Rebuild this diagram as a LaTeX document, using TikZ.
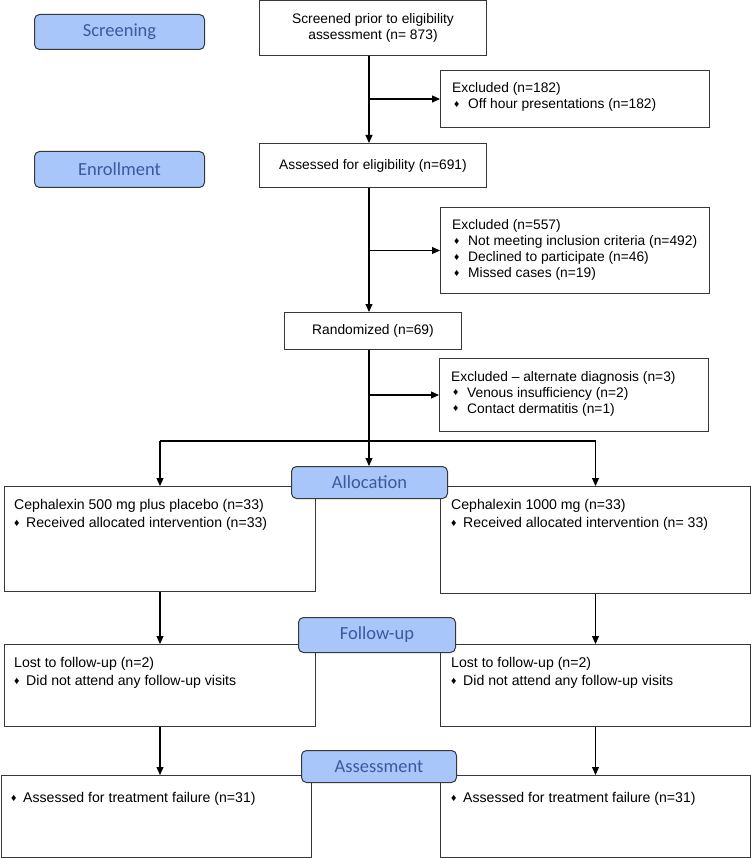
\documentclass[tikz,border=0pt]{standalone}
\usepackage{fontspec}
\setmainfont{Liberation Sans}
\newfontfamily\pillfont{Carlito}
\usetikzlibrary{arrows.meta,calc}
\definecolor{pillfill}{RGB}{168,198,250}
\definecolor{pilltext}{RGB}{62,88,158}
\definecolor{boxline}{RGB}{55,55,55}
\newcommand\bul{\raisebox{0.15ex}{\scalebox{0.75}{♦}}}
\newcommand\mainsize{\fontsize{13.8}{16}\selectfont}
\newcommand\lowsize{\fontsize{14.1}{18}\selectfont}
\tikzset{
  box/.style={draw=boxline, line width=1pt, rectangle, inner sep=0pt, anchor=north west},
  pill/.style={draw=boxline, fill=pillfill, rounded corners=5pt, line width=1pt,
    font=\pillfont\fontsize{18.5}{20}\selectfont, text=pilltext, anchor=north west, inner sep=0pt},
  txt/.style={anchor=base west, inner sep=0pt, font=\mainsize},
  lowtxt/.style={anchor=base west, inner sep=0pt, font=\lowsize},
  arr/.style={line width=1.1pt, -{Triangle[length=8pt,width=7pt]}},
  plain/.style={line width=1.1pt}
}
\begin{document}
\begin{tikzpicture}[x=1pt,y=-1pt]
\useasboundingbox (0,0) rectangle (751,858);
\coordinate (spine) at (369,0);
\coordinate (split) at (369,441);

% stage labels (top)
\node[pill, minimum width=170pt, minimum height=35pt] (pscr) at (34,14) {Screening};
\node[pill, minimum width=170pt, minimum height=36pt] (penr) at (34,151) {Enrollment};

% main column
\node[box, minimum width=227pt, minimum height=54.5pt, align=center, font=\mainsize] (scr) at (259,0.5)
  {Screened prior to eligibility\\assessment (n= 873)};
\node[box, minimum width=227pt, minimum height=44pt, font=\mainsize] (ass) at (259,143)
  {Assessed for eligibility (n=691)};
\node[box, minimum width=177pt, minimum height=37pt, font=\mainsize] (rand) at (284,312)
  {Randomized (n=69)};

% exclusion boxes
\node[box, minimum width=269pt, minimum height=57pt] (ex1) at (440,70) {};
\node[txt] (ex1t) at ($(ex1.north west)+(12,22.5)$) {\begin{tabular}[t]{@{}l@{}}Excluded (n=182)\\
  \hspace{2pt}\makebox[14pt][l]{\bul}Off hour presentations (n=182)\end{tabular}};

\node[box, minimum width=269pt, minimum height=86pt] (ex2) at (440,207) {};
\node[txt] (ex2t) at ($(ex2.north west)+(12,22.5)$) {\begin{tabular}[t]{@{}l@{}}Excluded (n=557)\\
  \hspace{2pt}\makebox[14pt][l]{\bul}Not meeting inclusion criteria (n=492)\\
  \hspace{2pt}\makebox[14pt][l]{\bul}Declined to participate (n=46)\\
  \hspace{2pt}\makebox[14pt][l]{\bul}Missed cases (n=19)\end{tabular}};

\node[box, minimum width=269pt, minimum height=73pt] (ex3) at (439,358) {};
\node[txt] (ex3t) at ($(ex3.north west)+(12,23)$) {\begin{tabular}[t]{@{}l@{}}Excluded – alternate diagnosis (n=3)\\
  \hspace{2pt}\makebox[14pt][l]{\bul}Venous insufficiency (n=2)\\
  \hspace{2pt}\makebox[14pt][l]{\bul}Contact dermatitis (n=1)\end{tabular}};

% allocation boxes
\node[box, minimum width=311pt, minimum height=105pt] (al) at (4,486) {};
\node[lowtxt] (alt) at ($(al.north west)+(10,23.5)$) {\begin{tabular}[t]{@{}l@{}}Cephalexin 500 mg plus placebo (n=33)\\
  \makebox[12pt][l]{\bul}Received allocated intervention (n=33)\end{tabular}};
\node[box, minimum width=310pt, minimum height=107pt] (ar) at (440,486) {};
\node[lowtxt] (art) at ($(ar.north west)+(11,23.5)$) {\begin{tabular}[t]{@{}l@{}}Cephalexin 1000 mg (n=33)\\
  \makebox[12pt][l]{\bul}Received allocated intervention (n= 33)\end{tabular}};

% follow-up boxes
\node[box, minimum width=311pt, minimum height=82pt] (fl) at (4,644) {};
\node[lowtxt] (flt) at ($(fl.north west)+(10,23.5)$) {\begin{tabular}[t]{@{}l@{}}Lost to follow-up (n=2)\\
  \makebox[12pt][l]{\bul}Did not attend any follow-up visits\end{tabular}};
\node[box, minimum width=310pt, minimum height=82pt] (fr) at (440,644) {};
\node[lowtxt] (frt) at ($(fr.north west)+(11,23.5)$) {\begin{tabular}[t]{@{}l@{}}Lost to follow-up (n=2)\\
  \makebox[12pt][l]{\bul}Did not attend any follow-up visits\end{tabular}};

% assessment boxes
\node[box, minimum width=310.5pt, minimum height=82pt] (asl) at (0.5,775) {};
\node[lowtxt] (aslt) at ($(asl.north west)+(10.5,27.5)$) {\makebox[12pt][l]{\bul}Assessed for treatment failure (n=31)};
\node[box, minimum width=310pt, minimum height=82pt] (asr) at (440,775) {};
\node[lowtxt] (asrt) at ($(asr.north west)+(11,27.5)$) {\makebox[12pt][l]{\bul}Assessed for treatment failure (n=31)};

% stage labels (lower)
\node[pill, minimum width=156pt, minimum height=32pt] (palloc) at (291,466) {Allocation};
\node[pill, minimum width=157pt, minimum height=35pt] (pfu) at (298,617) {Follow-up};
\node[pill, minimum width=155pt, minimum height=32pt] (pas) at (301,750) {Assessment};

% connectors
\draw[arr] (scr.south -| spine) -- (ass.north -| spine);
\draw[arr] (spine |- ex1.west) -- (ex1.west);
\draw[arr] (ass.south -| spine) -- (rand.north -| spine);
\draw[arr] (spine |- ex2.west) -- (ex2.west);
\draw[arr] (rand.south -| spine) -- (palloc.north -| spine);
\draw[arr] (spine |- ex3.west) -- (ex3.west);
\draw[plain] (al.north |- split) -- (ar.north |- split);
\draw[arr] (al.north |- split) -- (al.north);
\draw[arr] (ar.north |- split) -- (ar.north);
\draw[arr] (al.south) -- (fl.north);
\draw[arr] (ar.south) -- (fr.north);
\draw[arr] (fl.south) -- (fl.south |- asl.north);
\draw[arr] (fr.south) -- (fr.south |- asr.north);
\end{tikzpicture}
\end{document}
